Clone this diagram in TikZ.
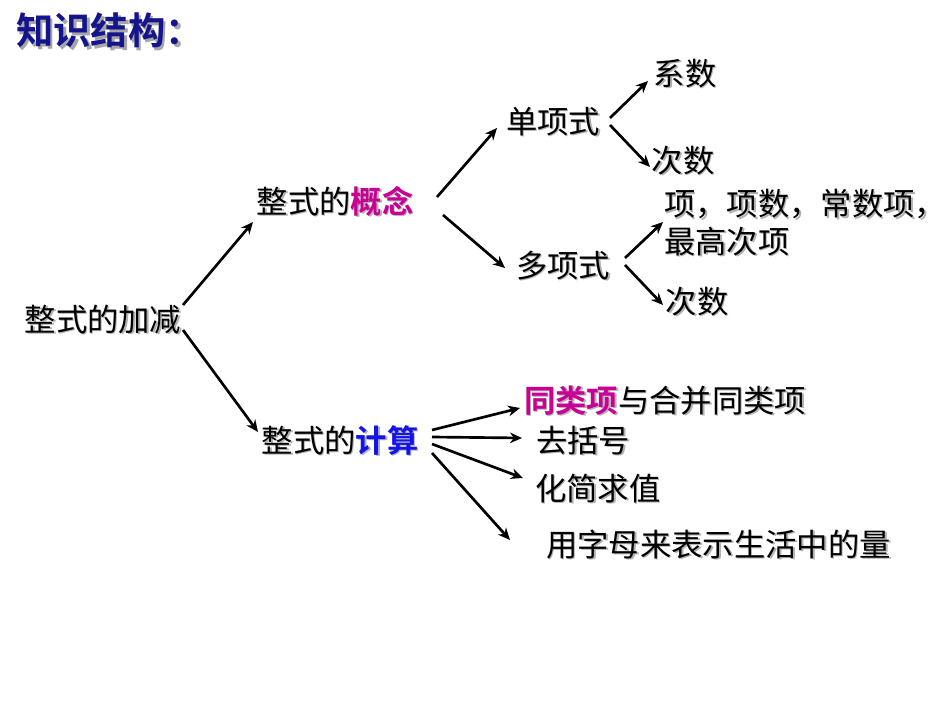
\documentclass[tikz,border=0pt]{standalone}
\usepackage{fontspec}
\setmainfont{Noto Sans CJK SC}[BoldFont={* Bold}]
\usetikzlibrary{arrows.meta}
\definecolor{navy}{RGB}{20,20,140}
\definecolor{mag}{RGB}{200,0,150}
\definecolor{blu}{RGB}{20,20,230}
\newcommand{\sh}[1]{\makebox[0pt][l]{\hspace{1.2pt}\raisebox{-1.2pt}{\color{black!30}#1}}#1}
\begin{document}
\begin{tikzpicture}[x=0.75pt,y=-0.75pt,
  t/.style={inner sep=0pt,font=\fontsize{23.5}{28}\selectfont},
  arr/.style={-{Stealth[length=9pt,width=8pt]},line width=2pt}]
\useasboundingbox[fill=white] (0,0) rectangle (950,713);
\node[inner sep=0pt,anchor=west,font=\fontsize{28}{32}\selectfont\bfseries,text=navy] (title) at (16,32) {\makebox[0pt][l]{\hspace{2pt}\raisebox{-2pt}{\color{black!35}知识结构：}}知识结构：};
\node[t] (root) at (103,320) {\sh{整式的加减}};
\node[t] (gn) at (335,202) {\sh{整式的}{\color{mag}\bfseries\sh{概念}}};
\node[t] (js) at (340,441) {\sh{整式的}{\color{blu}\bfseries\sh{计算}}};
\node[t] (dx) at (553,122) {\sh{单项式}};
\node[t] (dd) at (563,266) {\sh{多项式}};
\node[t] (xs) at (685,74) {\sh{系数}};
\node[t] (cs1) at (683,161) {\sh{次数}};
\node[t,anchor=west] (xx) at (664,205) {\sh{项，项数，常数项，}};
\node[t,anchor=west] (zg) at (664,242) {\sh{最高次项}};
\node[t] (cs2) at (697,302) {\sh{次数}};
\node[t,anchor=west] (tl) at (524,401) {{\color{mag}\bfseries\sh{同类项}}\sh{与合并同类项}};
\node[t,anchor=west] (qk) at (536,441) {\sh{去括号}};
\node[t,anchor=west] (hj) at (535,489) {\sh{化简求值}};
\node[t,anchor=west] (yz) at (546,545) {\sh{用字母来表示生活中的量}};
\draw[arr] (183,305) -- (253,222);
\draw[arr] (183,330) -- (258,432);
\draw[arr] (437,197) -- (497,128);
\draw[arr] (443,215) -- (505,268);
\draw[arr] (610,118) -- (648,81);
\draw[arr] (610,125) -- (650,167);
\draw[arr] (625,258) -- (663,222);
\draw[arr] (625,265) -- (663,305);
\draw[arr] (432,430) -- (520,408);
\draw[arr] (432,437) -- (522,438);
\draw[arr] (432,444) -- (523,478);
\draw[arr] (432,453) -- (510,540);
\end{tikzpicture}
\end{document}
